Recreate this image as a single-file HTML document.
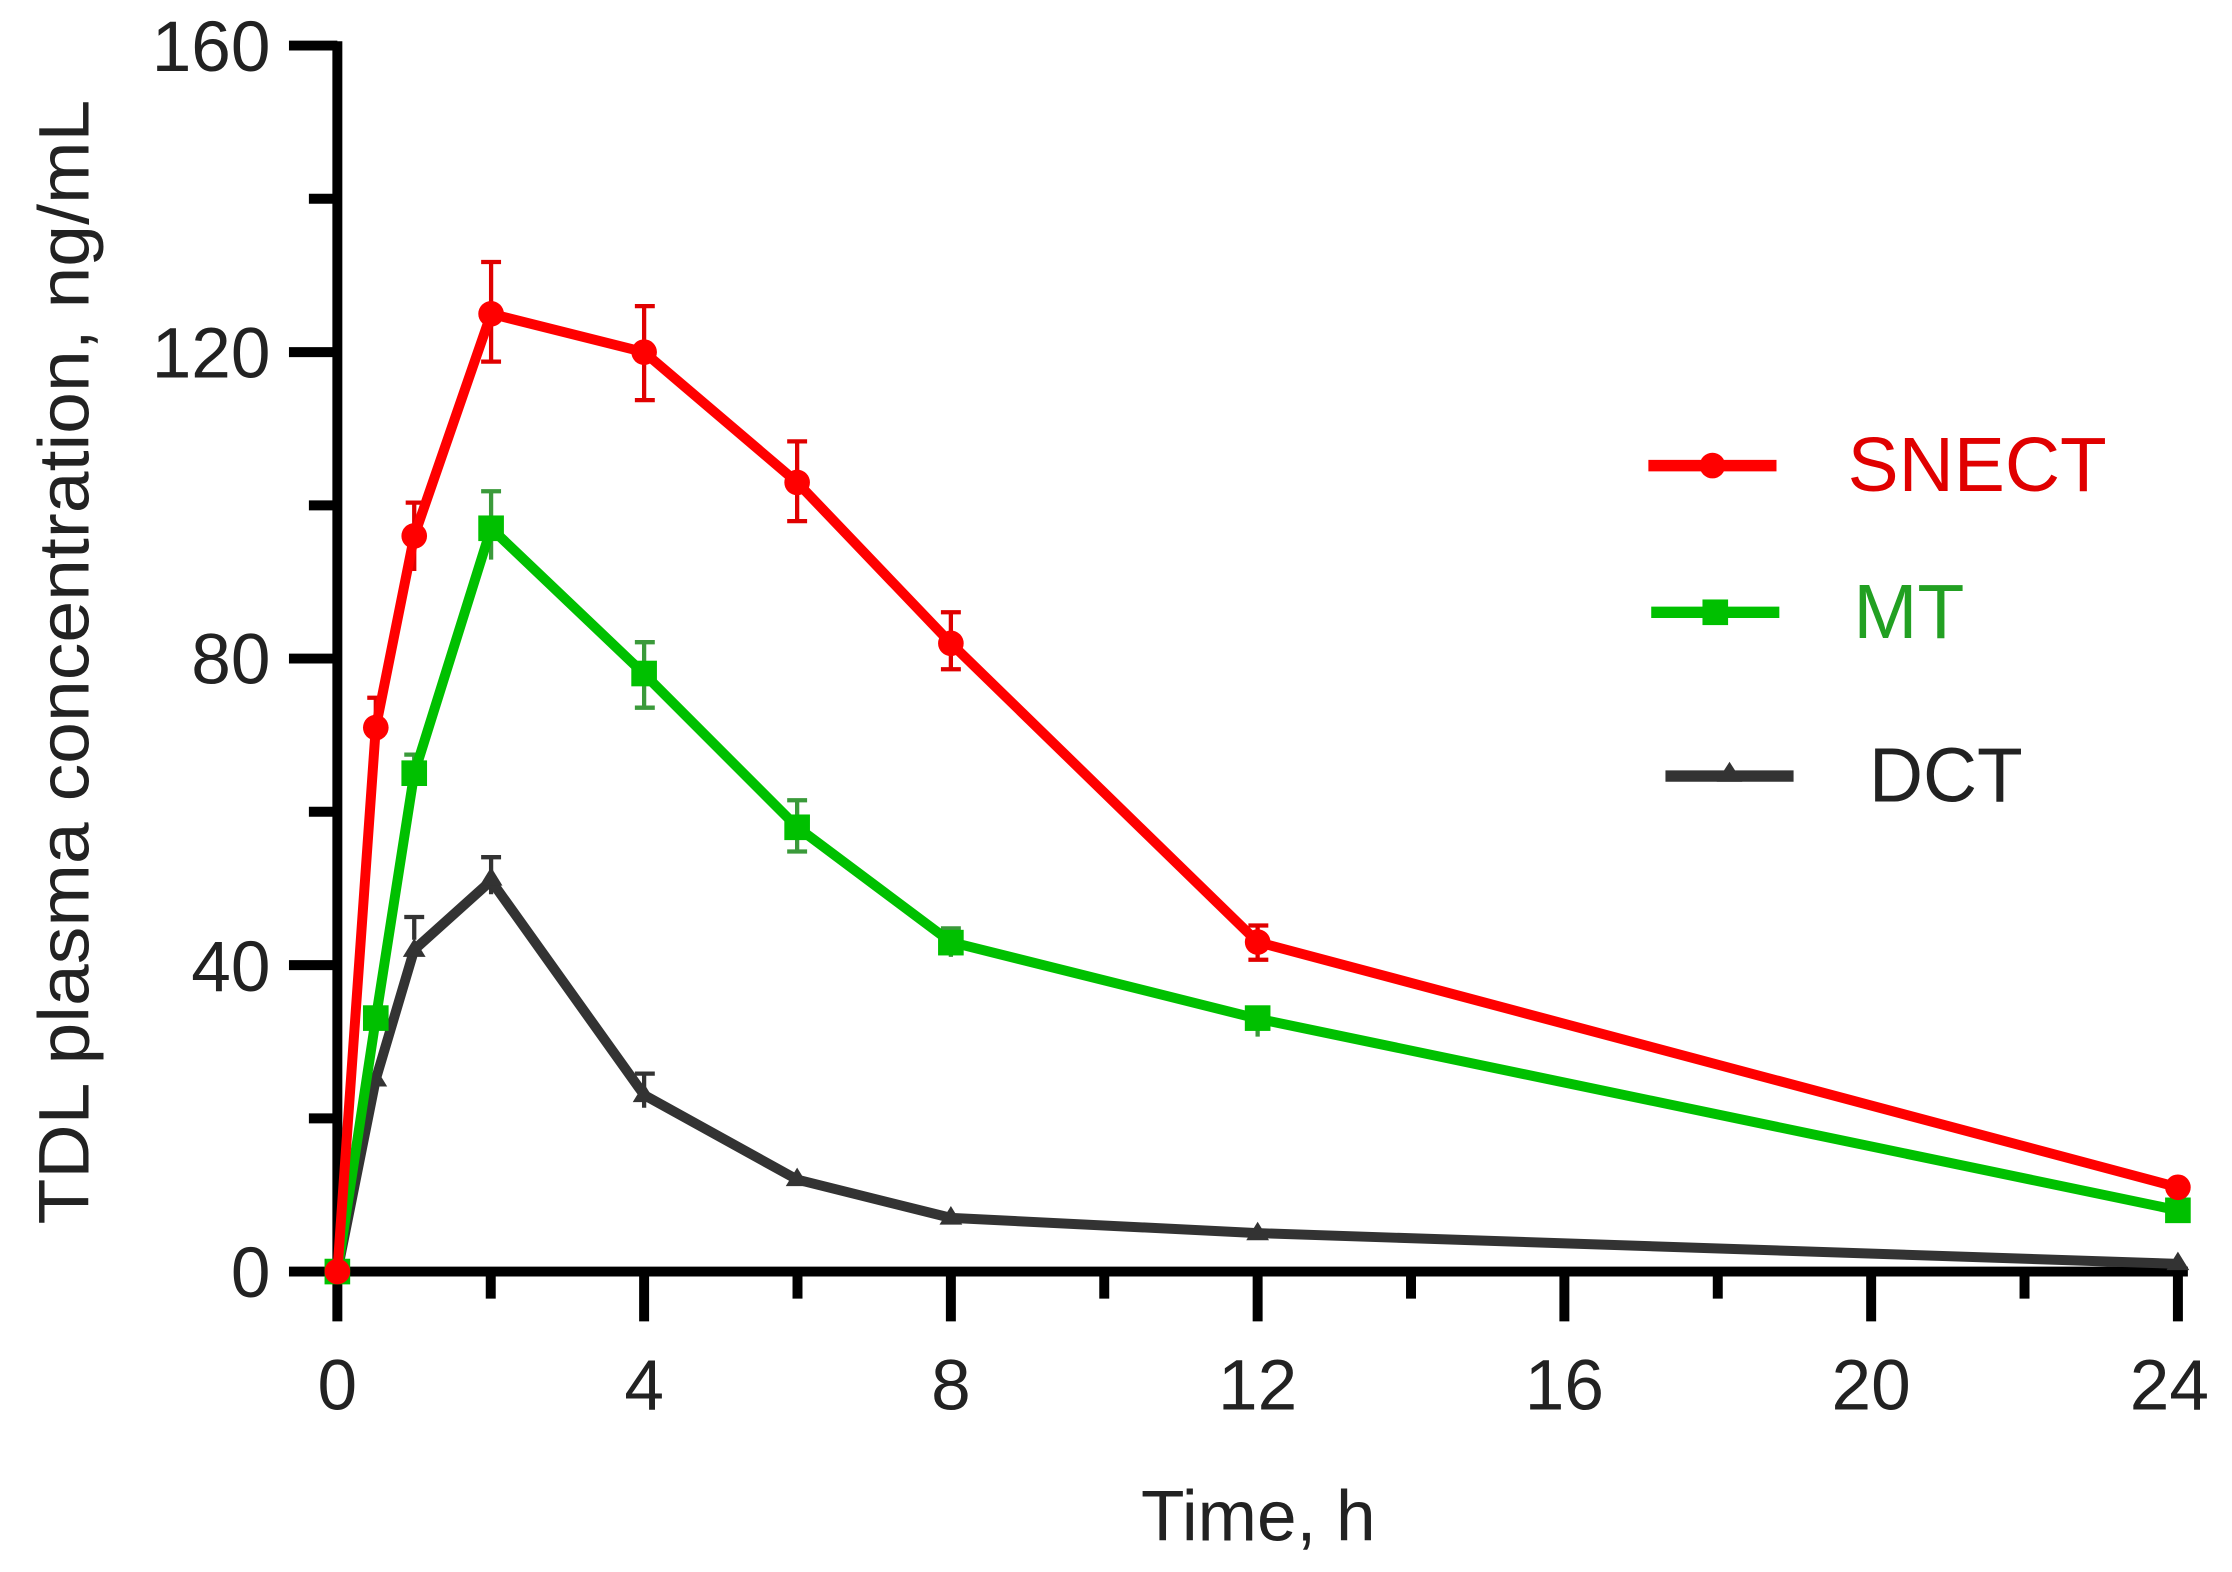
<!DOCTYPE html>
<html><head><meta charset="utf-8"><style>html,body{margin:0;padding:0;background:#fff;}svg{display:block}</style></head>
<body>
<svg width="2232" height="1572" viewBox="0 0 1568 1104" preserveAspectRatio="none" xmlns="http://www.w3.org/2000/svg" font-family="Liberation Sans, Arial, sans-serif">
<rect width="1568" height="1104" fill="#fff"/>
<g stroke="#000" stroke-width="7" fill="none">
<line x1="237" y1="29" x2="237" y2="897"/>
<line x1="203" y1="893" x2="1537" y2="893"/>
<line x1="203" y1="32" x2="237" y2="32"/>
<line x1="217" y1="139.6" x2="237" y2="139.6"/>
<line x1="203" y1="247.3" x2="237" y2="247.3"/>
<line x1="217" y1="354.9" x2="237" y2="354.9"/>
<line x1="203" y1="462.5" x2="237" y2="462.5"/>
<line x1="217" y1="570.1" x2="237" y2="570.1"/>
<line x1="203" y1="677.8" x2="237" y2="677.8"/>
<line x1="217" y1="785.4" x2="237" y2="785.4"/>
<line x1="237" y1="893" x2="237" y2="928"/>
<line x1="344.75" y1="893" x2="344.75" y2="912"/>
<line x1="452.5" y1="893" x2="452.5" y2="928"/>
<line x1="560.25" y1="893" x2="560.25" y2="912"/>
<line x1="668" y1="893" x2="668" y2="928"/>
<line x1="775.75" y1="893" x2="775.75" y2="912"/>
<line x1="883.5" y1="893" x2="883.5" y2="928"/>
<line x1="991.25" y1="893" x2="991.25" y2="912"/>
<line x1="1099" y1="893" x2="1099" y2="928"/>
<line x1="1206.75" y1="893" x2="1206.75" y2="912"/>
<line x1="1314.5" y1="893" x2="1314.5" y2="928"/>
<line x1="1422.25" y1="893" x2="1422.25" y2="912"/>
<line x1="1530" y1="893" x2="1530" y2="928"/>
</g>
<g font-size="50" fill="#222" text-anchor="end">
<text x="190" y="50">160</text>
<text x="190" y="265">120</text>
<text x="190" y="480">80</text>
<text x="190" y="696">40</text>
<text x="190" y="911">0</text>
</g>
<g font-size="50" fill="#222" text-anchor="middle">
<text x="237" y="990">0</text>
<text x="452.5" y="990">4</text>
<text x="668" y="990">8</text>
<text x="883.5" y="990">12</text>
<text x="1099" y="990">16</text>
<text x="1314.5" y="990">20</text>
<text x="1524" y="990">24</text>
<text x="884" y="1082">Time, h</text>
<text transform="translate(62,465) rotate(-90)" textLength="790" lengthAdjust="spacingAndGlyphs">TDL plasma concentration, ng/mL</text>
</g>
<g stroke="#333" stroke-width="3" fill="none">
<path d="M291 660v-16M284 644h14M345 628v-26M338 602h14M452.5 778v-24M446 754h14"/>
</g>
<polyline fill="none" stroke="#333" stroke-width="7" stroke-linejoin="round" points="237,893 264,758 291,667 345,618.5 452.5,769 560,828.4 668,855.3 883.5,866 1530,887.6"/>
<g fill="#333"><path d="M345 609l8 13h-16z"/><path d="M452.5 761l8 13h-16z"/><path d="M560 820l8 13h-16z"/><path d="M668 847l8 13h-16z"/><path d="M883.5 858l8 13h-16z"/><path d="M1530 879l8 13h-16z"/><path d="M291 659l8 13h-16z"/><path d="M264 750l8 13h-16z"/></g>
<g stroke="#3a9a3a" stroke-width="3" fill="none">
<path d="M291 530v26M284 530h14M345 345v48M338 345h14M452.5 451v46M446 451h14M446 497h14M560 562v36M553 562h14M553 598h14M668 652v20M661 652h14M883.5 708v20"/>
</g>
<polyline fill="none" stroke="#00c000" stroke-width="7" stroke-linejoin="round" points="237,893 264,715.4 291,543.2 345,371 452.5,473.3 560,580.9 668,661.6 883.5,715.4 1530,850"/>
<g fill="#00c000"><rect x="336" y="362" width="18" height="18"/><rect x="443.5" y="464" width="18" height="18"/><rect x="551" y="572" width="18" height="18"/><rect x="659" y="653" width="18" height="18"/><rect x="874.5" y="706" width="18" height="18"/><rect x="1521" y="841" width="18" height="18"/><rect x="282" y="534" width="18" height="18"/><rect x="255" y="706" width="18" height="18"/><rect x="228" y="884" width="18" height="18"/></g>
<g stroke="#e00000" stroke-width="3" fill="none">
<path d="M264 490v38M258 490h12M291 353v48M285 353h12M345 184v70M338 184h14M338 254h14M452.5 215v66M446 215h14M446 281h14M560 310v56M553 310h14M553 366h14M668 430v40M661 430h14M661 470h14M883.5 650v24M877 650h14M877 674h14"/>
</g>
<polyline fill="none" stroke="#ff0000" stroke-width="7" stroke-linejoin="round" points="237,893 264,511 291,376.4 345,220.4 452.5,247.3 560,338.8 668,451.8 883.5,661.6 1530,833.8"/>
<g fill="#ff0000"><circle cx="237" cy="893" r="9"/><circle cx="264" cy="511" r="9"/><circle cx="291" cy="376.4" r="9"/><circle cx="345" cy="220.4" r="9"/><circle cx="452.5" cy="247.3" r="9"/><circle cx="560" cy="338.8" r="9"/><circle cx="668" cy="451.8" r="9"/><circle cx="883.5" cy="661.6" r="9"/><circle cx="1530" cy="833.8" r="9"/></g>
<line x1="1158" y1="327" x2="1248" y2="327" stroke="#ff0000" stroke-width="8"/><circle cx="1203" cy="327" r="9" fill="#ff0000"/>
<text x="1298" y="345" font-size="54" fill="#e00000" textLength="182" lengthAdjust="spacingAndGlyphs">SNECT</text>
<line x1="1160" y1="430" x2="1250" y2="430" stroke="#00c000" stroke-width="8"/><rect x="1196" y="421" width="18" height="18" fill="#00c000"/>
<text x="1302" y="448" font-size="54" fill="#22a022" textLength="78" lengthAdjust="spacingAndGlyphs">MT</text>
<line x1="1170" y1="545" x2="1260" y2="545" stroke="#333" stroke-width="8"/><path d="M1215 535l9 14h-18z" fill="#333"/>
<text x="1313" y="563" font-size="54" fill="#222" textLength="108" lengthAdjust="spacingAndGlyphs">DCT</text>
</svg>
</body></html>
